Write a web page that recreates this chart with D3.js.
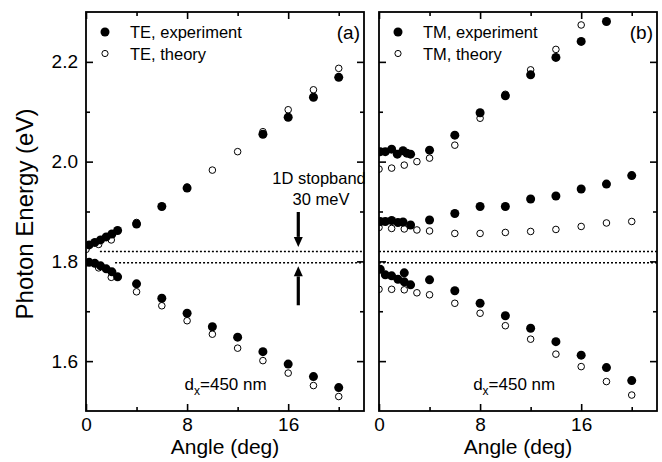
<!DOCTYPE html>
<html>
<head>
<meta charset="utf-8">
<script src="https://cdn.jsdelivr.net/npm/d3@7"></script>
<style>
  html, body { margin: 0; padding: 0; background: #fff; }
  svg { display: block; }
  text { font-family: "Liberation Sans", Arial, Helvetica, sans-serif; fill: #000; }
</style>
</head>
<body>
<svg id="chart" width="662" height="462"></svg>
<script>
// ---------------- DATA ----------------
// Panel (a): TE
const teExpUpperAngle = [0.25, 0.7, 1.15, 1.6, 2.05, 2.5, 4, 6, 8, 14, 16, 18, 20];
const teExpUpperE     = [1.833, 1.838, 1.843, 1.849, 1.855, 1.862, 1.875, 1.910, 1.947, 2.055, 2.089, 2.129, 2.169];
const teExpLowerAngle = [0.25, 0.7, 1.15, 1.6, 2.05, 2.5, 4, 6, 8, 10, 12, 14, 16, 18, 20];
const teExpLowerE     = [1.798, 1.796, 1.791, 1.785, 1.779, 1.769, 1.755, 1.726, 1.696, 1.669, 1.648, 1.619, 1.594, 1.569, 1.547];
const teThUpperAngle  = [0, 1, 2, 4, 6, 8, 10, 12, 14, 16, 18, 20];
const teThUpperE      = [1.824, 1.834, 1.843, 1.878, 1.910, 1.949, 1.983, 2.020, 2.060, 2.104, 2.144, 2.187];
const teThLowerAngle  = [0, 1, 2, 4, 6, 8, 10, 12, 14, 16, 18, 20];
const teThLowerE      = [1.797, 1.787, 1.768, 1.739, 1.711, 1.681, 1.654, 1.626, 1.601, 1.576, 1.551, 1.529];

// Panel (b): TM
const tmExpUpperAngle = [0.1, 0.5, 1.0, 1.45, 1.9, 2.2, 2.5, 4, 6, 8, 10, 12, 14, 16, 18];
const tmExpUpperE     = [2.020, 2.020, 2.025, 2.015, 2.022, 2.017, 2.015, 2.023, 2.053, 2.098, 2.132, 2.174, 2.209, 2.241, 2.281];
const tmThUpperAngle  = [0, 1, 2, 3, 4, 6, 8, 10, 12, 14, 16];
const tmThUpperE      = [1.985, 1.987, 1.993, 2.000, 2.007, 2.033, 2.087, 2.135, 2.184, 2.225, 2.274];
const tmExpMidAngle   = [0.1, 0.5, 1.0, 1.5, 1.9, 2.5, 4, 6, 8, 10, 12, 14, 16, 18, 20];
const tmExpMidE       = [1.880, 1.880, 1.882, 1.878, 1.879, 1.873, 1.883, 1.896, 1.910, 1.910, 1.925, 1.931, 1.945, 1.955, 1.972];
const tmThMidAngle    = [0, 1, 2, 3, 4, 6, 8, 10, 12, 14, 16, 18, 20];
const tmThMidE        = [1.868, 1.866, 1.865, 1.863, 1.861, 1.856, 1.856, 1.858, 1.860, 1.864, 1.870, 1.877, 1.880];
const tmExpLowAngle   = [0.1, 0.5, 1.0, 1.5, 2.0, 2.0, 2.5, 4, 6, 8, 10, 12, 14, 16, 18, 20];
const tmExpLowE       = [1.784, 1.773, 1.771, 1.764, 1.777, 1.759, 1.753, 1.763, 1.741, 1.716, 1.691, 1.666, 1.639, 1.612, 1.587, 1.561];
const tmThLowAngle    = [0, 1, 2, 3, 4, 6, 8, 10, 12, 14, 16, 18, 20];
const tmThLowE        = [1.744, 1.744, 1.743, 1.737, 1.733, 1.716, 1.696, 1.671, 1.644, 1.614, 1.589, 1.559, 1.532];

// Stopband edges (eV) and where the dotted lines start (deg)
const stopbandE       = [1.820, 1.797];
const stopbandStartTE = [1.1, 2.3];
const stopbandStartTM = [0, 0];
// arrows: [angle, fromE, toE]
const arrowDown = [16.8, 1.899, 1.829];
const arrowUp   = [16.8, 1.712, 1.790];

// Axes ticks
const xMajorTicks = [0, 8, 16];
const xMinorTicks = [4, 12, 20];
const yMajorTicks = [1.6, 1.8, 2.0, 2.2];
const yMinorTicks = [1.7, 1.9, 2.1];

const legendTE = ["TE, experiment", "TE, theory"];
const legendTM = ["TM, experiment", "TM, theory"];

// ---------------- DRAW ----------------
const svg = d3.select("#chart");
const plotTop = 12, plotBottom = 411;
const y = d3.scaleLinear().domain([1.5, 2.3]).range([plotBottom, plotTop]);
const panels = [
  { id: "a", x: d3.scaleLinear().domain([0, 22]).range([86, 364]), label: "(a)", legend: legendTE,
    exp: [[teExpUpperAngle, teExpUpperE], [teExpLowerAngle, teExpLowerE]],
    th:  [[teThUpperAngle, teThUpperE], [teThLowerAngle, teThLowerE]],
    sbStart: stopbandStartTE, yLabels: true, dxAt: 7.8 },
  { id: "b", x: d3.scaleLinear().domain([0, 22]).range([379, 657]), label: "(b)", legend: legendTM,
    exp: [[tmExpUpperAngle, tmExpUpperE], [tmExpMidAngle, tmExpMidE], [tmExpLowAngle, tmExpLowE]],
    th:  [[tmThUpperAngle, tmThUpperE], [tmThMidAngle, tmThMidE], [tmThLowAngle, tmThLowE]],
    sbStart: stopbandStartTM, yLabels: false, dxAt: 7.45 }
];

const defs = svg.append("defs");

panels.forEach(p => {
  const x = p.x;
  const [x0, x1] = x.range();
  defs.append("clipPath").attr("id", "clip-" + p.id)
    .append("rect").attr("x", x0).attr("y", plotTop).attr("width", x1 - x0).attr("height", plotBottom - plotTop);

  const g = svg.append("g");

  // dotted stopband lines
  stopbandE.forEach((e, i) => {
    g.append("line")
      .attr("x1", x(p.sbStart[i])).attr("x2", x1)
      .attr("y1", y(e)).attr("y2", y(e))
      .attr("stroke", "#000").attr("stroke-width", 1.5)
      .attr("stroke-dasharray", "2,2");
  });

  const marks = g.append("g").attr("clip-path", `url(#clip-${p.id})`);
  // theory (open) first, experiment (filled) on top
  p.th.forEach(([a, e]) => {
    marks.append("g").selectAll("circle").data(d3.zip(a, e)).join("circle")
      .attr("cx", d => x(d[0])).attr("cy", d => y(d[1])).attr("r", 3.3)
      .attr("fill", "#fff").attr("stroke", "#000").attr("stroke-width", 1);
  });
  p.exp.forEach(([a, e]) => {
    marks.append("g").selectAll("circle").data(d3.zip(a, e)).join("circle")
      .attr("cx", d => x(d[0])).attr("cy", d => y(d[1])).attr("r", 4.5)
      .attr("fill", "#000");
  });

  // axes (ticks inward)
  const fontSize = 19;
  const bMajor = d3.axisBottom(x).tickValues(xMajorTicks).tickSizeInner(-7).tickSizeOuter(0).tickPadding(7).tickFormat(d3.format("d"));
  const bMinor = d3.axisBottom(x).tickValues(xMinorTicks).tickSizeInner(-4).tickSizeOuter(0).tickFormat("");
  const tMajor = d3.axisTop(x).tickValues(xMajorTicks).tickSizeInner(-7).tickSizeOuter(0).tickFormat("");
  const tMinor = d3.axisTop(x).tickValues(xMinorTicks).tickSizeInner(-4).tickSizeOuter(0).tickFormat("");
  const lMajor = d3.axisLeft(y).tickValues(yMajorTicks).tickSizeInner(-7).tickSizeOuter(0).tickPadding(8)
                   .tickFormat(p.yLabels ? d3.format(".1f") : "");
  const lMinor = d3.axisLeft(y).tickValues(yMinorTicks).tickSizeInner(-4).tickSizeOuter(0).tickFormat("");
  const rMajor = d3.axisRight(y).tickValues(yMajorTicks).tickSizeInner(-7).tickSizeOuter(0).tickFormat("");
  const rMinor = d3.axisRight(y).tickValues(yMinorTicks).tickSizeInner(-4).tickSizeOuter(0).tickFormat("");

  const ax = [
    [bMajor, `translate(0,${plotBottom})`], [bMinor, `translate(0,${plotBottom})`],
    [tMajor, `translate(0,${plotTop})`], [tMinor, `translate(0,${plotTop})`],
    [lMajor, `translate(${x0},0)`], [lMinor, `translate(${x0},0)`],
    [rMajor, `translate(${x1},0)`], [rMinor, `translate(${x1},0)`]
  ];
  ax.forEach(([axis, tr]) => {
    const ag = g.append("g").attr("transform", tr).call(axis);
    ag.select(".domain").remove();
    ag.selectAll(".tick line").attr("stroke", "#000").attr("stroke-width", 1.6);
    ag.selectAll(".tick text").attr("font-size", fontSize)
      .attr("font-family", '"Liberation Sans", Arial, sans-serif').attr("fill", "#000");
  });

  // frame
  g.append("rect").attr("x", x0).attr("y", plotTop).attr("width", x1 - x0).attr("height", plotBottom - plotTop)
    .attr("fill", "none").attr("stroke", "#000").attr("stroke-width", 1.8);

  // legend
  const lx = x0 + 19, tx = x0 + 44;
  g.append("circle").attr("cx", lx).attr("cy", 32).attr("r", 4.5).attr("fill", "#000");
  g.append("circle").attr("cx", lx).attr("cy", 53.5).attr("r", 3.1).attr("fill", "#fff").attr("stroke", "#000").attr("stroke-width", 1);
  g.append("text").attr("x", tx).attr("y", 38).attr("font-size", 16.5).text(p.legend[0]);
  g.append("text").attr("x", tx).attr("y", 60).attr("font-size", 16.5).text(p.legend[1]);

  // panel label
  g.append("text").attr("x", x1 - 4).attr("y", 39).attr("text-anchor", "end").attr("font-size", 19).text(p.label);

  // d_x label
  const dt = g.append("text").attr("x", x(p.dxAt)).attr("y", 390).attr("font-size", 17);
  dt.append("tspan").text("d");
  dt.append("tspan").attr("font-size", 12).attr("dy", 5).text("x");
  dt.append("tspan").attr("dy", -5).text("=450 nm");

  // x axis title
  g.append("text").attr("x", (x0 + x1) / 2).attr("y", 454).attr("text-anchor", "middle")
    .attr("font-size", 21).text("Angle (deg)");
});

// y axis title
svg.append("text").attr("transform", "translate(33,214) rotate(-90)")
  .attr("text-anchor", "middle").attr("font-size", 24).text("Photon Energy (eV)");

// stopband annotation in panel (a)
const xa = panels[0].x;
svg.append("text").attr("x", 319).attr("y", 184).attr("text-anchor", "middle").attr("font-size", 16.5).text("1D stopband");
svg.append("text").attr("x", 321).attr("y", 205).attr("text-anchor", "middle").attr("font-size", 16.5).text("30 meV");

function arrow(spec) {
  const [a, e0, e1] = spec;
  const ax = xa(a), ya0 = y(e0), ya1 = y(e1);
  const dir = ya1 > ya0 ? 1 : -1;
  const headLen = 10, headW = 4.5;
  svg.append("line").attr("x1", ax).attr("x2", ax).attr("y1", ya0).attr("y2", ya1 - dir * headLen)
    .attr("stroke", "#000").attr("stroke-width", 3.2);
  svg.append("path")
    .attr("d", `M${ax - headW},${ya1 - dir * headLen} L${ax + headW},${ya1 - dir * headLen} L${ax},${ya1} Z`)
    .attr("fill", "#000");
}
arrow(arrowDown);
arrow(arrowUp);
</script>
</body>
</html>
